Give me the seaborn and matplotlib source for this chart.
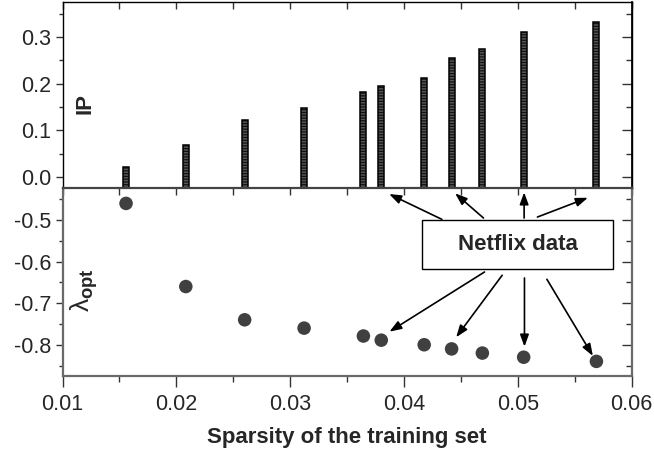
import numpy as np
import pandas as pd
import matplotlib
matplotlib.use("Agg")
import matplotlib.pyplot as plt
import seaborn as sns
from matplotlib.patches import Rectangle

# ---- data ----
sparsity = [0.01558, 0.02083, 0.02600, 0.03122, 0.03643, 0.03800,
            0.04177, 0.04418, 0.04688, 0.05051, 0.05690]
ip_values = [0.022, 0.068, 0.122, 0.147, 0.181, 0.194,
             0.212, 0.254, 0.275, 0.311, 0.333]
lambda_opt = [-0.46, -0.66, -0.74, -0.76, -0.779, -0.789,
              -0.80, -0.81, -0.82, -0.83, -0.84]
x_ticks = [0.01, 0.02, 0.03, 0.04, 0.05, 0.06]
x_tick_labels = ["0.01", "0.02", "0.03", "0.04", "0.05", "0.06"]
ip_ticks = [0.0, 0.1, 0.2, 0.3]
ip_tick_labels = ["0.0", "0.1", "0.2", "0.3"]
lam_ticks = [-0.5, -0.6, -0.7, -0.8]
lam_tick_labels = ["-0.5", "-0.6", "-0.7", "-0.8"]
box_text = "Netflix data"
x_label = "Sparsity of the training set"

df = pd.DataFrame({"sparsity": sparsity, "ip": ip_values, "lam": lambda_opt})

sns.set_theme(style="ticks")
plt.rcParams["font.family"] = ["Liberation Sans", "DejaVu Sans"]
plt.rcParams["mathtext.fontset"] = "custom"
plt.rcParams["mathtext.rm"] = "Liberation Sans"
plt.rcParams["mathtext.bf"] = "Liberation Sans:bold"
plt.rcParams["mathtext.it"] = "Liberation Sans:italic"
plt.rcParams["hatch.linewidth"] = 0.9

XLIM = (0.01, 0.06)
IP_LIM = (-0.024, 0.375)
LAM_LIM = (-0.874, -0.423)
FS = 15.5

fig = plt.figure(figsize=(6.54, 4.57), dpi=100)
ax_top = fig.add_axes([0.0956, 0.5886, 0.8703, 0.4070])
ax_bot = fig.add_axes([0.0956, 0.1783, 0.8703, 0.4103])

# ---- top panel: IP bars ----
bar_w = 0.00053
ax_top.bar(df["sparsity"], df["ip"] - IP_LIM[0], bottom=IP_LIM[0], width=bar_w,
           color="#555555", edgecolor="#111111", hatch="------", linewidth=0, zorder=2)
ax_top.bar(df["sparsity"], df["ip"] - IP_LIM[0], bottom=IP_LIM[0], width=bar_w,
           fill=False, edgecolor="black", linewidth=1.1, zorder=3)
ax_top.set_xlim(*XLIM)
ax_top.set_ylim(*IP_LIM)
ax_top.set_yticks(ip_ticks)
ax_top.set_yticklabels(ip_tick_labels)
ax_top.set_yticks([0.05, 0.15, 0.25, 0.35], minor=True)
ax_top.set_xticks(x_ticks)
ax_top.set_xticks([0.015, 0.025, 0.035, 0.045, 0.055], minor=True)
ax_top.tick_params(axis="x", which="both", bottom=False, top=True, labelbottom=False,
                   direction="in", length=5, width=1, color="#333333")
ax_top.tick_params(axis="y", which="major", direction="out", length=5, width=1,
                   labelsize=FS, pad=3, color="#333333")
ax_top.tick_params(axis="y", which="minor", direction="out", length=3, width=1, color="#333333")
for s in ax_top.spines.values():
    s.set_color("black")
    s.set_linewidth(1.0)
    s.set_visible(True)
sec_top = ax_top.secondary_yaxis("right")
sec_top.set_yticks(ip_ticks)
sec_top.set_yticks([0.05, 0.15, 0.25, 0.35], minor=True)
sec_top.tick_params(which="major", direction="in", length=7, width=1, labelright=False, color="#333333")
sec_top.tick_params(which="minor", direction="in", length=4, width=1, color="#333333")
sec_top.spines["right"].set_color("black")
ax_top.text(0.04, 0.457, "IP", transform=ax_top.transAxes, rotation=90,
            ha="center", va="center", fontsize=16, fontweight="bold")

# ---- bottom panel: lambda_opt scatter ----
sns.scatterplot(data=df, x="sparsity", y="lam", ax=ax_bot, s=95, color="#404040",
                edgecolor="none", zorder=3, legend=False)
ax_bot.set_xlim(*XLIM)
ax_bot.set_ylim(*LAM_LIM)
ax_bot.set_xticks(x_ticks)
ax_bot.set_xticklabels(x_tick_labels)
ax_bot.set_xticks([0.015, 0.025, 0.035, 0.045, 0.055], minor=True)
ax_bot.set_yticks(lam_ticks)
ax_bot.set_yticklabels(lam_tick_labels)
ax_bot.set_yticks([-0.45, -0.55, -0.65, -0.75, -0.85], minor=True)
ax_bot.tick_params(axis="x", which="major", direction="out", length=8, width=1,
                   labelsize=FS, pad=5, color="#333333")
ax_bot.tick_params(axis="x", which="minor", direction="out", length=4, width=1, color="#333333")
ax_bot.tick_params(axis="y", which="major", direction="out", length=5, width=1,
                   labelsize=FS, pad=3, color="#333333")
ax_bot.tick_params(axis="y", which="minor", direction="out", length=3, width=1, color="#333333")
ax_bot.set_xlabel(x_label, fontsize=16, fontweight="bold", labelpad=9)
ax_bot.set_ylabel("")
for name, s in ax_bot.spines.items():
    s.set_visible(True)
    s.set_color("#6a6a6a")
    s.set_linewidth(1.6)
ax_bot.spines["top"].set_color("#444444")
sec_bot_r = ax_bot.secondary_yaxis("right")
sec_bot_r.set_yticks(lam_ticks)
sec_bot_r.set_yticks([-0.45, -0.55, -0.65, -0.75, -0.85], minor=True)
sec_bot_r.tick_params(which="major", direction="in", length=7, width=1, labelright=False, color="#333333")
sec_bot_r.tick_params(which="minor", direction="in", length=4, width=1, color="#333333")
sec_bot_r.spines["right"].set_color("#6a6a6a")
sec_bot_t = ax_bot.secondary_xaxis("top")
sec_bot_t.set_xticks(x_ticks)
sec_bot_t.set_xticks([0.015, 0.025, 0.035, 0.045, 0.055], minor=True)
sec_bot_t.tick_params(which="both", direction="in", length=5, width=1, labeltop=False, color="#333333")
sec_bot_t.spines["top"].set_color("#444444")
ax_bot.text(0.038, 0.456, r"$\mathrm{\lambda}_{\mathbf{opt}}$", transform=ax_bot.transAxes,
            rotation=90, ha="center", va="center", fontsize=19)

# ---- annotation box and arrows ----
ax_bot.add_patch(Rectangle((0.04156, -0.6185), 0.0584 - 0.04156, 0.1185,
                           facecolor="white", edgecolor="black", linewidth=1.0, zorder=4))
ax_bot.text(0.0500, -0.559, box_text, ha="center", va="center", fontsize=16,
            fontweight="bold", zorder=5)
arrow_starts = [(0.04332, -0.4983), (0.04698, -0.4952), (0.05055, -0.4952), (0.05172, -0.4928),
                (0.04707, -0.625), (0.04862, -0.6329), (0.05058, -0.6394), (0.05255, -0.6425)]
arrow_ends = [(0.03869, -0.4375), (0.04449, -0.4358), (0.05055, -0.4334), (0.05615, -0.4464),
              (0.03872, -0.7685), (0.04458, -0.782), (0.05058, -0.8046), (0.05659, -0.8269)]
for (x0, y0), (x1, y1) in zip(arrow_starts, arrow_ends):
    ax_bot.annotate("", xy=(x1, y1), xytext=(x0, y0),
                    arrowprops=dict(arrowstyle="-|>,head_length=0.6,head_width=0.22",
                                    color="black", lw=1.2, shrinkA=0, shrinkB=0),
                    zorder=5)

fig.savefig("out.png", dpi=100)
